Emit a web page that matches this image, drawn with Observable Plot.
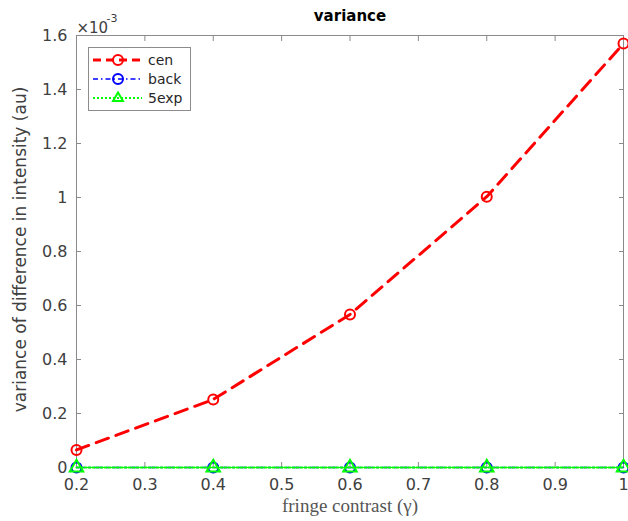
<!DOCTYPE html>
<html>
<head>
<meta charset="utf-8">
<script src="https://cdn.jsdelivr.net/npm/d3@7"></script>
<script src="https://cdn.jsdelivr.net/npm/@observablehq/plot@0.6"></script>
<style>
  body { margin: 0; background: #fff; }
  #wrap { position: relative; width: 628px; height: 521px; }
  #legend { position: absolute; left: 88px; top: 47px; width: 101px; height: 62px;
    border: 1px solid #8c8c8c; background: #fff; font: 14px "DejaVu Sans", sans-serif; color: #262626; }
  #legend .row { position: absolute; left: 0; height: 20px; display: flex; align-items: center; }
  #legend svg { display: block; }
</style>
</head>
<body>
<div id="wrap"></div>
<script>
// data (y values in units of 1e-3)
const gamma = [0.2, 0.4, 0.6, 0.8, 1.0];
const cen   = [0.065, 0.252, 0.567, 1.003, 1.57];
const back  = [0, 0, 0, 0, 0];
const exp5  = [0, 0, 0, 0, 0];
const seriesNames = ["cen", "back", "5exp"];
const seriesColors = ["#ff0000", "#0000ff", "#00ff00"];
const xTicks = [0.2, 0.3, 0.4, 0.5, 0.6, 0.7, 0.8, 0.9, 1];
const yTicks = [0, 0.2, 0.4, 0.6, 0.8, 1, 1.2, 1.4, 1.6];

const rows = (ys) => gamma.map((g, i) => ({x: g, y: ys[i]}));
const cenD = rows(cen), backD = rows(back), expD = rows(exp5);
const fmt = d3.format("~g");
const font = '"DejaVu Sans", sans-serif';

const plot = Plot.plot({
  width: 628, height: 521,
  marginLeft: 76, marginRight: 5, marginTop: 35, marginBottom: 54,
  style: {fontFamily: font, fontSize: "16px", color: "#404040", background: "#fff"},
  x: {domain: [0.2, 1]},
  y: {domain: [0, 1.6]},
  marks: [
    Plot.frame({stroke: "#8a8a8a", strokeWidth: 1}),
    Plot.axisX({ticks: xTicks, tickFormat: fmt, tickSize: -5, tickPadding: 16, stroke: "#8a8a8a", label: null, fontSize: 16}),
    Plot.axisX({anchor: "top", ticks: xTicks, tickSize: -5, tickFormat: () => "", stroke: "#8a8a8a", label: null}),
    Plot.axisY({ticks: yTicks, tickFormat: fmt, tickSize: -5, tickPadding: 14, stroke: "#8a8a8a", label: null, fontSize: 16}),
    Plot.axisY({anchor: "right", ticks: yTicks, tickSize: -5, tickFormat: () => "", stroke: "#8a8a8a", label: null}),
    // series
    Plot.line(cenD, {x: "x", y: "y", stroke: seriesColors[0], strokeWidth: 3, strokeDasharray: "13,8"}),
    Plot.dot(cenD, {x: "x", y: "y", stroke: seriesColors[0], r: 5, strokeWidth: 2}),
    Plot.line(backD, {x: "x", y: "y", stroke: seriesColors[1], strokeWidth: 1.5, strokeDasharray: "8,4,2,4"}),
    Plot.dot(backD, {x: "x", y: "y", stroke: seriesColors[1], r: 5, strokeWidth: 2}),
    Plot.line(expD, {x: "x", y: "y", stroke: seriesColors[2], strokeWidth: 2, strokeDasharray: "2,2"}),
    Plot.dot(expD, {x: "x", y: "y", stroke: seriesColors[2], symbol: "triangle", r: 5, strokeWidth: 2}),
    // texts
    Plot.text(["variance"], {frameAnchor: "top", dy: -25, fontWeight: "bold", fontSize: 15, fill: "#000"}),
    Plot.text(["fringe contrast (γ)"], {frameAnchor: "bottom", dy: 44, fontFamily: '"Liberation Serif", serif', fontSize: 19, fill: "#555"}),
    Plot.text(["variance of difference in intensity (au)"], {frameAnchor: "left", textAnchor: "middle", dx: -56, dy: -2, rotate: -90, fontSize: 17, fill: "#404040"}),
    Plot.text(["×10"], {frameAnchor: "top-left", dy: -13, dx: 0, textAnchor: "start", fontSize: 15, fill: "#404040"}),
    Plot.text(["-3"], {frameAnchor: "top-left", dy: -21, dx: 30, textAnchor: "start", fontSize: 11, fill: "#404040"})
  ]
});
const wrap = document.getElementById("wrap");
wrap.appendChild(plot);

// legend
const leg = document.createElement("div");
leg.id = "legend";
const styles = [
  {dash: "8,5", w: 3, sym: "circle"},
  {dash: "5,3,1.5,3", w: 1.5, sym: "circle"},
  {dash: "2,2", w: 2, sym: "triangle"}
];
seriesNames.forEach((name, i) => {
  const row = document.createElement("div");
  row.className = "row";
  row.style.top = (2 + i * 19) + "px";
  const s = styles[i], c = seriesColors[i];
  const marker = s.sym === "circle"
    ? `<circle cx="29" cy="10" r="5" fill="none" stroke="${c}" stroke-width="2"/>`
    : `<path d="M29,4.5 L34,13 L24,13 Z" fill="none" stroke="${c}" stroke-width="2"/>`;
  row.innerHTML = `<svg width="59" height="20"><line x1="4" y1="10" x2="53" y2="10" stroke="${c}" stroke-width="${s.w}" stroke-dasharray="${s.dash}"/>${marker}</svg><span>${name}</span>`;
  leg.appendChild(row);
});
wrap.appendChild(leg);
</script>
</body>
</html>
